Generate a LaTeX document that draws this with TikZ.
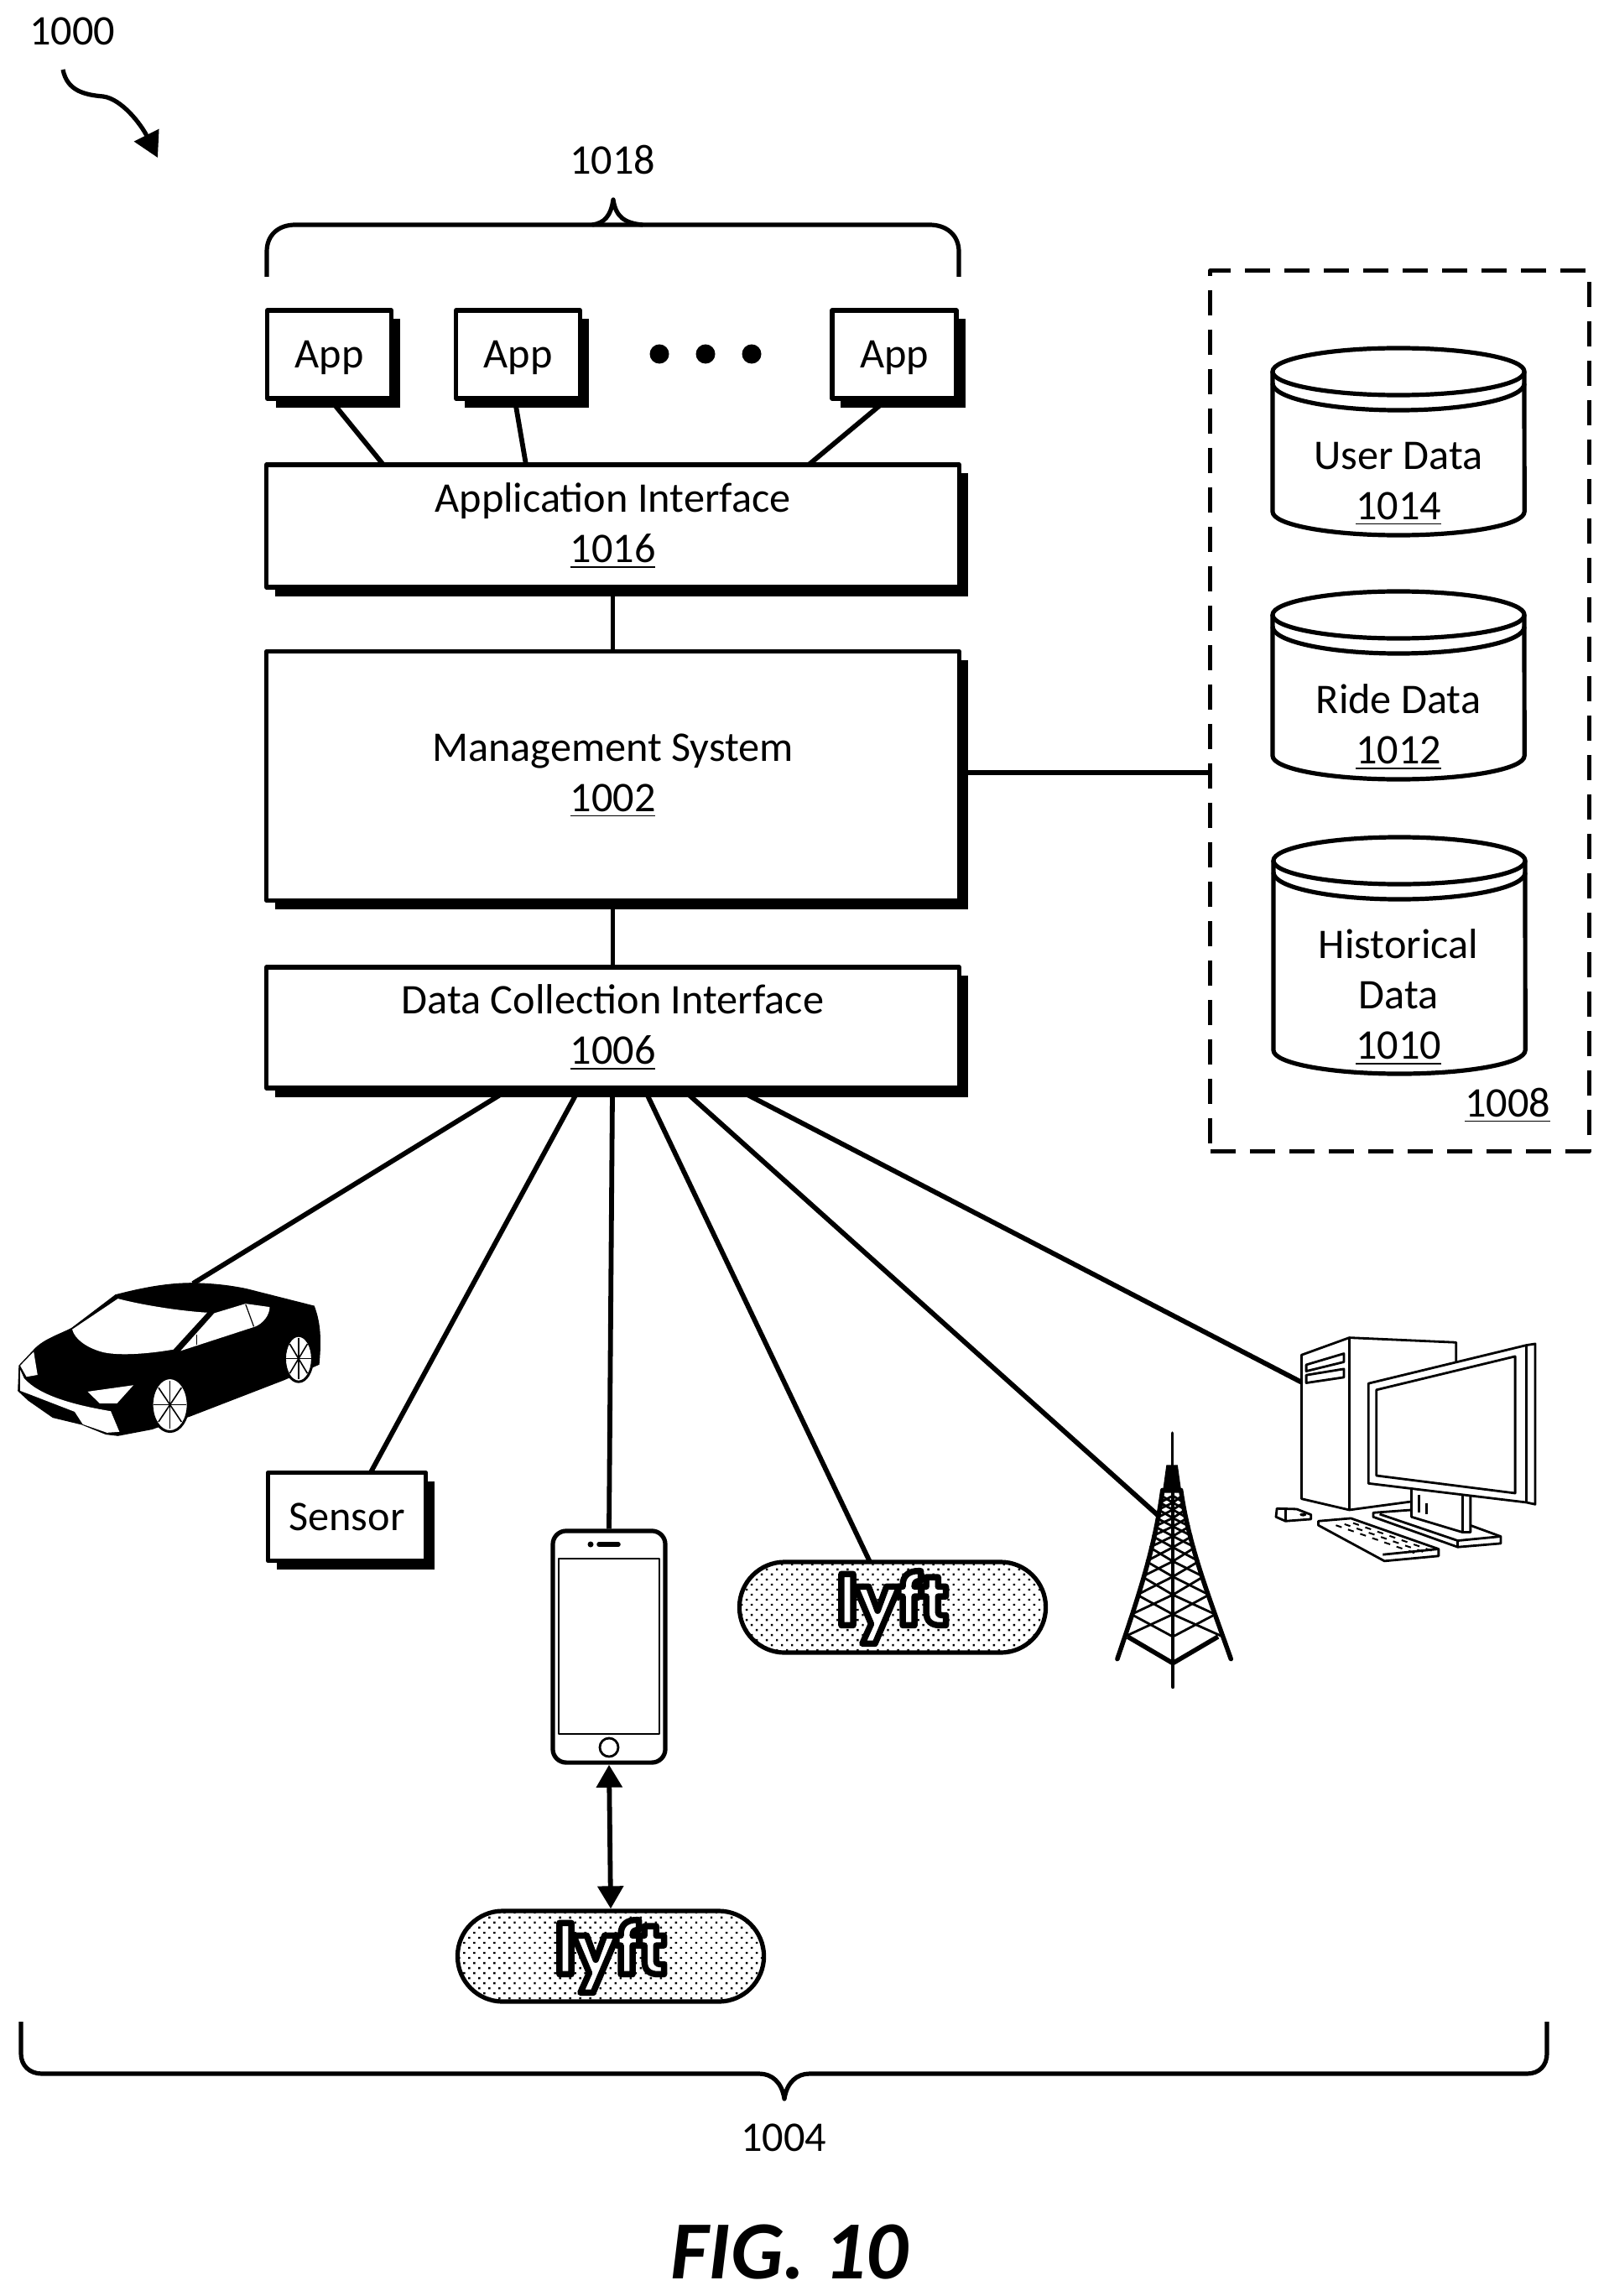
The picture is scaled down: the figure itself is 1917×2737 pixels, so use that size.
\documentclass[tikz,border=0pt]{standalone}
\usepackage{fontspec}
\setmainfont{Carlito}
\newfontfamily\lyftface[FakeBold=9,LetterSpace=-3]{Poppins}
\usetikzlibrary{arrows.meta,calc,shadows,patterns.meta}
\tikzset{
  every node/.style={font=\fontsize{14.3}{17}\selectfont},
  fig/.style={line width=.052cm, line join=round},
  link/.style={line width=.058cm},
  sbox/.style={draw, fig, fill=white, inner sep=0pt, align=center,
    drop shadow={shadow xshift=.105cm, shadow yshift=-.105cm, fill=black, opacity=1}},
  appbox/.style={sbox, minimum width=1.48cm, minimum height=1.05cm, execute at begin node={\rule{0pt}{11.6pt}}},
  widebox/.style={sbox, minimum width=8.25cm, execute at begin node={\rule{0pt}{14pt}}},
  pill/.style={draw, fig, rounded corners=.54cm, minimum width=3.65cm, minimum height=1.08cm, inner sep=0pt,
    pattern={Dots[distance=.085cm, radius=.017cm, angle=45]}},
  thinfig/.style={line width=.028cm, line join=round},
}
\newcommand{\datacyl}[4]{
  \draw[fig, fill=white] ({#2-150},#3) -- ({#2-150},#4) arc[start angle=180, end angle=360, x radius=1.5cm, y radius=.28cm] -- ({#2+150},#3);
  \draw[fig] (#2,#3) ellipse [x radius=1.5cm, y radius=.28cm];
  \draw[fig] ({#2-150},{#3+14}) arc[start angle=180, end angle=360, x radius=1.5cm, y radius=.32cm];
  \coordinate (#1) at (#2,#3);
}
\newcommand{\lyftmark}{\lyftface\bfseries\fontsize{23.5}{24}\selectfont\special{pdf:code 1 g}lyft\special{pdf:code 0 g}}
\begin{document}
\begin{tikzpicture}[x=.01cm, y=-.01cm]
  \useasboundingbox (0,0) rectangle (1917,2737);

  \node (figref) at (86,37) {1000};
  \draw[fig, -{Triangle[length=.3cm, width=.32cm]}] (75,83) .. controls (80,108) and (100,113) .. (123,115) .. controls (145,118) and (168,148) .. (188,188);

  % apps and interfaces
  \node (applabel) at (730,191) {1018};
  \draw[fig] (318,330) -- (318,300) .. controls (318,280) and (332,268) .. (352,268) -- (1108,268) .. controls (1128,268) and (1143,280) .. (1143,300) -- (1143,330);
  \draw[fig] (706,268) .. controls (720,266) and (728,258) .. (731,238) .. controls (734,258) and (744,266) .. (766,268);

  \node[appbox] (app1) at (392.5,422.5) {App};
  \node[appbox] (app2) at (617.5,422.5) {App};
  \node[appbox] (app3) at (1066,422.5) {App};
  \foreach \dotx in {786,841,896} {
    \fill (\dotx,422) circle (.115cm);
  }

  \coordinate (iface1) at (457,554);
  \coordinate (iface2) at (627,554);
  \coordinate (iface3) at (964,554);
  \draw[link] (400,484) -- (iface1);
  \draw[link] (615,484) -- (iface2);
  \draw[link] (1048,484) -- (iface3);

  \node[widebox, minimum height=1.46cm] (iface) at (730.5,627) {Application Interface\\\underline{1016}};
  \node[widebox, minimum height=2.97cm] (mgmt) at (730.5,925) {Management System\\\underline{1002}};
  \node[widebox, minimum height=1.44cm] (dci) at (730.5,1225) {Data Collection Interface\\\underline{1006}};
  \draw[link] (iface.south) ++(0,8) -- (mgmt.north);
  \draw[link] (mgmt.south) ++(0,8) -- (dci.north);

  % data store
  \node[draw, fig, dash pattern=on .3cm off .17cm, minimum width=4.51cm, minimum height=10.49cm] (store) at (1668.5,847.5) {};
  \coordinate (mgmtport) at (1152,921);
  \draw[link] (mgmtport) -- (mgmtport -| store.west);
  \datacyl{userdb}{1667}{443}{610}
  \datacyl{ridedb}{1667}{733}{901}
  \datacyl{histdb}{1668}{1026}{1252}
  \node[align=center] (userlabel) at (1667,577) {User Data\\\underline{1014}};
  \node[align=center] (ridelabel) at (1667,867) {Ride Data\\\underline{1012}};
  \node[align=center] (histlabel) at (1667,1189) {Historical\\Data\\\underline{1010}};
  \node (storelabel) at (1797,1318) {\underline{1008}};

  % sources
  \coordinate (carport) at (230,1530);
  \coordinate (towerport) at (1381,1807);
  \coordinate (pcport) at (1552,1648);
  \coordinate (dci1) at (598,1304);
  \coordinate (dci2) at (687,1304);
  \coordinate (dci3) at (730,1304);
  \coordinate (dci4) at (771,1304);
  \coordinate (dci5) at (820,1304);
  \coordinate (dci6) at (889,1304);

  \node[sbox, minimum width=1.88cm, minimum height=1.05cm] (sensor) at (413.5,1808) {Sensor};
  \node[pill] (lyfta) at (1064,1916) {\lyftmark};
  \node[pill] (lyftb) at (728,2332) {\lyftmark};
  \node[draw, fig, rounded corners=.16cm, minimum width=1.34cm, minimum height=2.76cm, inner sep=0pt, fill=white] (phone) at (726,1963) {};

  \draw[link] (dci1) -- (carport);
  \draw[link] (dci2) -- (442,1755);
  \draw[link] (dci3) -- (phone.north);
  \draw[link] (dci4) -- (1037,1862);
  \draw[link] (dci5) -- (towerport);
  \draw[link] (dci6) -- (pcport);
  \draw[link, {Triangle[length=.27cm, width=.3cm]}-{Triangle[length=.27cm, width=.3cm]}] (phone.south) -- (lyftb.north);

  % phone details
  \draw[thinfig] (666,1858) rectangle (786,2067);
  \draw[thinfig] (726,2083) circle (.11cm);
  \draw[line width=.055cm, line cap=round] (714,1841) -- (737,1841);
  \fill (704,1841) circle (.035cm);

  % car
  \begin{scope}[shift={(0,1400)}, x=.00574cm, y=-.00333cm]
    \draw[line width=.012cm, fill=black] (240,432) .. controls (300,405) and (350,390) .. (400,390) .. controls (450,392) and (480,400) .. (510,410) -- (652,472) .. controls (662,520) and (668,570) .. (662,680) -- (590,735) -- (395,865) -- (315,912) -- (245,935) -- (220,930) -- (170,895) -- (110,870) -- (60,810) -- (38,775) -- (40,685) -- (70,630) .. controls (90,590) and (130,570) .. (150,550) -- cycle;
    \fill[white] (245,445) .. controls (300,470) and (380,490) .. (430,495) -- (360,627) .. controls (300,645) and (240,650) .. (210,635) .. controls (180,620) and (155,590) .. (150,555) -- cycle;
    \fill[white] (445,497) -- (510,463) -- (560,475) .. controls (560,505) and (545,535) .. (530,545) -- (375,632) -- cycle;
    \draw[line width=.012cm] (510,465) -- (527,545);
    \draw[line width=.006cm] (408,575) -- (408,610);
    \fill[white] (70,635) -- (42,685) -- (55,725) -- (78,718) -- cycle;
    \fill[white] (42,700) -- (42,775) -- (65,790) -- (155,850) -- (172,895) -- (222,925) -- (248,922) -- (230,848) .. controls (150,825) and (80,790) .. (50,730) -- cycle;
    \draw[line width=.006cm] (65,790) -- (60,810);
    \fill[white] (182,778) -- (277,755) -- (243,820) -- (207,820) -- cycle;
    \foreach \wx/\wy/\wa/\wb in {353/825/.215/.32, 620/660/.165/.275} {
      \draw[line width=.03cm, fill=white] (\wx,\wy) ellipse [x radius=\wa cm, y radius=\wb cm];
      \foreach \wang in {0,45,...,315} {
        \draw[line width=.016cm] (\wx,\wy) -- ++(\wang:{\wa*.9cm} and {\wb*.9cm});
      }
    }
  \end{scope}

  % tower
  \begin{scope}[shift={(1248,1550)}, x=.00385cm, y=-.00333cm,
      declare function={legshift(\t)=.75*\t+.25*\t*\t; legl(\y)=358-140*legshift((\y-680)/605); legr(\y)=415+155*legshift((\y-680)/605);}]
    \draw[line width=.035cm, line cap=round] (388,475) -- (388,600);
    \fill (370,590) -- (405,590) -- (417,690) -- (358,690) -- cycle;
    \draw[line width=.055cm, line cap=round] (358,680) .. controls (335,880) and (290,1040) .. (218,1285);
    \draw[line width=.055cm, line cap=round] (415,680) .. controls (440,880) and (495,1040) .. (570,1285);
    \draw[line width=.045cm, line cap=round] (390,680) -- (390,1385);
    \draw[line width=.055cm, line join=miter] (250,1205) -- (390,1300) -- (530,1205);
    \foreach \ya/\yb in {1205/1125,1125/1055,1055/990,990/935,935/885,885/845,845/810,810/780,780/750,750/725,725/700} {
      \draw[line width=.028cm] ({legl(\ya)},\ya) -- (390,\yb) -- ({legr(\ya)},\ya);
      \draw[line width=.028cm] ({legl(\yb)},\yb) -- (390,\ya) -- ({legr(\yb)},\yb);
    }
  \end{scope}

  % computer
  \begin{scope}[shift={(1253,1552)}, x=.0038cm, y=-.00333cm]
    \draw[thinfig, fill=white] (785,190) -- (935,128) -- (1270,145) -- (1270,400) -- (1130,715) -- (935,745) -- (785,705) -- cycle;
    \draw[thinfig] (935,128) -- (935,745);
    \draw[thinfig] (800,225) -- (918,185) -- (918,215) -- (800,248) -- cycle;
    \draw[thinfig] (800,262) -- (918,240) -- (918,270) -- (800,290) -- cycle;
    \draw[thinfig, fill=white] (1010,755) -- (1130,745) -- (1290,790) -- (1410,840) -- (1410,865) -- (1275,878) -- (1010,770) -- cycle;
    \draw[thinfig] (1030,760) -- (1275,855) -- (1410,840);
    \draw[thinfig] (1275,855) -- (1275,878);
    \draw[thinfig, fill=white] (1130,660) -- (1130,770) -- (1290,825) -- (1315,825) -- (1315,680) -- cycle;
    \draw[thinfig] (1290,690) -- (1290,825);
    \draw[thinfig] (1153,690) -- (1153,755);
    \draw[thinfig] (1177,720) -- (1177,760);
    \draw[thinfig, fill=white] (995,292) -- (1490,155) -- (1518,150) -- (1518,725) -- (1490,718) -- (995,650) -- cycle;
    \draw[thinfig] (1490,155) -- (1490,718);
    \draw[thinfig] (1020,315) -- (1455,195) -- (1455,685) -- (1020,622) -- cycle;
    \draw[thinfig, fill=white] (838,785) -- (940,775) -- (1215,885) -- (1215,910) -- (1045,928) -- (838,800) -- cycle;
    \draw[thinfig] (1040,905) -- (1215,885);
    \foreach \keyi in {0,...,6} {
      \foreach \keyj in {0,...,2} {
        \draw[line width=.02cm] ({893+\keyi*38+\keyj*27},{800+\keyi*15.3-\keyj*4}) -- ++(18,7);
      }
    }
    \draw[thinfig] (708,740) -- (770,742) -- (815,762) -- (815,778) -- (735,785) -- (705,770) -- cycle;
    \draw[thinfig] (735,745) -- (735,785);
    \fill (790,762) ellipse [x radius=.04cm, y radius=.02cm];
  \end{scope}

  % end points
  \node (sourcelabel) at (934,2548) {1004};
  \draw[fig] (25,2410) -- (25,2448) .. controls (25,2462) and (35,2472) .. (50,2472) -- (905,2472) .. controls (920,2472) and (932,2482) .. (935,2502) .. controls (938,2482) and (950,2472) .. (965,2472) -- (1820,2472) .. controls (1835,2472) and (1844,2462) .. (1844,2448) -- (1844,2410);
  \node[font=\fontsize{28}{28}\selectfont\bfseries\itshape] (figlabel) at (941,2685) {FIG. 10};
\end{tikzpicture}
\end{document}
